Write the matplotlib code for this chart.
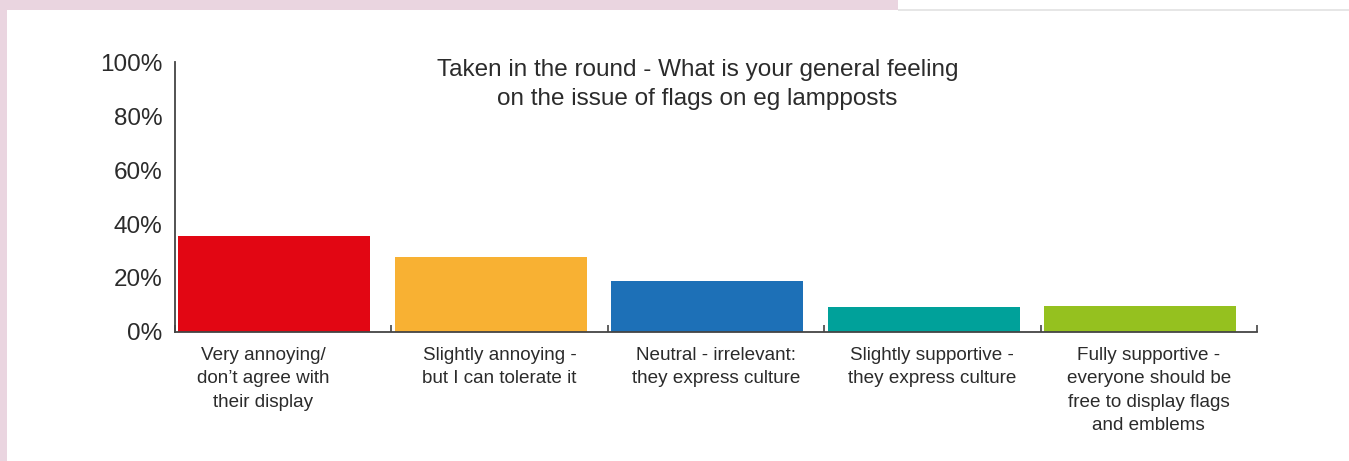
import matplotlib
matplotlib.use('Agg')
import matplotlib.pyplot as plt
from matplotlib.patches import Rectangle
from matplotlib.transforms import ScaledTranslation

plt.rcParams['font.family'] = ['Liberation Sans', 'DejaVu Sans']

# data
categories = [
    "Very annoying/\ndon\u2019t agree with\ntheir display",
    "Slightly annoying -\nbut I can tolerate it",
    "Neutral - irrelevant:\nthey express culture",
    "Slightly supportive -\nthey express culture",
    "Fully supportive -\neveryone should be\nfree to display flags\nand emblems",
]
values = [35.7, 27.7, 18.9, 9.2, 9.8]
colors = ['#e20613', '#f8b133', '#1d70b7', '#00a19a', '#95c11f']
yticks = [0, 20, 40, 60, 80, 100]
title = "Taken in the round - What is your general feeling\non the issue of flags on eg lampposts"

W, H = 1349, 461
fig = plt.figure(figsize=(W / 100, H / 100), dpi=100)
fig.patch.set_facecolor('white')

# pink frame top-left, thin grey rule top-right
pink = '#ead5e0'
fig.patches.append(Rectangle((0, 0), 7 / W, 1, transform=fig.transFigure,
                             facecolor=pink, edgecolor='none', zorder=0))
fig.patches.append(Rectangle((0, 1 - 10 / H), 898 / W, 10 / H, transform=fig.transFigure,
                             facecolor=pink, edgecolor='none', zorder=0))
fig.patches.append(Rectangle((898 / W, 1 - 11 / H), 1 - 898 / W, 1.5 / H,
                             transform=fig.transFigure,
                             facecolor='#e6e6e6', edgecolor='none', zorder=0))

ax = fig.add_axes([175 / W, 129 / H, 1082 / W, 270 / H])
x = list(range(len(values)))
ax.bar([i + 0.016 for i in x], values, width=0.887, align='edge',
       color=colors, linewidth=0)

ax.set_xlim(0, len(values))
ax.set_ylim(0, 100)

ax.set_yticks(yticks)
ax.set_yticklabels([f"{v}%" for v in yticks], fontsize=17.5, color='#2b2b2b')
ax.tick_params(axis='y', length=0, pad=9)

# boundary ticks (inward) + centered category labels
ax.set_xticks(range(len(values) + 1))
ax.set_xticklabels([])
ax.tick_params(axis='x', which='major', direction='in', length=5, width=1.2,
               color='#444444')
ax.set_xticks([i + 0.5 for i in x], minor=True)
ax.set_xticklabels(categories, minor=True, fontsize=13.6, color='#2b2b2b',
                   linespacing=1.5)
ax.tick_params(axis='x', which='minor', length=0, pad=10.5)
lab0 = ax.get_xticklabels(minor=True)[0]
lab0.set_transform(lab0.get_transform() + ScaledTranslation(-0.2, 0, fig.dpi_scale_trans))

for s in ['top', 'right']:
    ax.spines[s].set_visible(False)
for s in ['left', 'bottom']:
    ax.spines[s].set_color('#444444')
    ax.spines[s].set_linewidth(1.3)

ax.text(0.483, 1.01, title, transform=ax.transAxes, ha='center', va='top',
        fontsize=17.5, color='#2b2b2b', linespacing=1.4)

fig.savefig('out.png', dpi=100)
